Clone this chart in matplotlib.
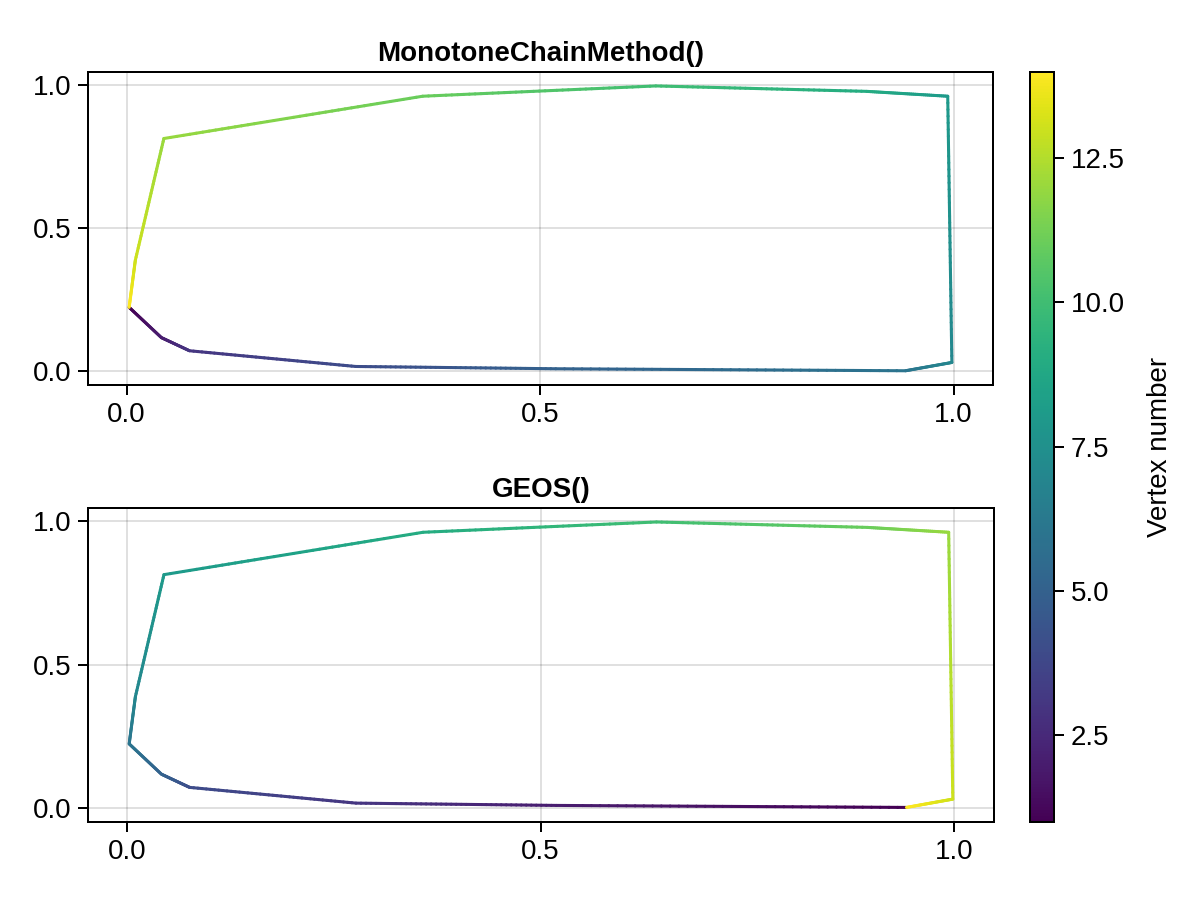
import numpy as np
import matplotlib
matplotlib.use("Agg")
import matplotlib.pyplot as plt
from matplotlib.collections import LineCollection
from matplotlib.colors import Normalize

# Convex hull vertices (closed ring), MonotoneChainMethod order
mc_x = [0.003, 0.042, 0.076, 0.277, 0.519, 0.942, 0.998, 0.993, 0.895, 0.640, 0.358, 0.045, 0.0105, 0.003]
mc_y = [0.223, 0.117, 0.071, 0.016, 0.008, 0.001, 0.030, 0.962, 0.979, 0.998, 0.962, 0.814, 0.388, 0.223]

# GEOS order (same hull, starting from a different vertex)
geos_x = [0.942, 0.519, 0.277, 0.076, 0.042, 0.003, 0.0105, 0.045, 0.358, 0.640, 0.895, 0.993, 0.998, 0.942]
geos_y = [0.001, 0.008, 0.016, 0.071, 0.117, 0.223, 0.388, 0.814, 0.962, 0.998, 0.979, 0.962, 0.030, 0.001]

titles = ["MonotoneChainMethod()", "GEOS()"]
x_ticks = [0.0, 0.5, 1.0]
y_ticks = [0.0, 0.5, 1.0]
cbar_ticks = [2.5, 5.0, 7.5, 10.0, 12.5]
cbar_label = "Vertex number"

plt.rcParams['font.family'] = ['Liberation Sans', 'DejaVu Sans']
plt.rcParams['font.size'] = 10

cmap = plt.get_cmap("viridis")
vnum = np.arange(1, len(mc_x) + 1)
norm = Normalize(vmin=vnum.min(), vmax=vnum.max())

fig = plt.figure(figsize=(6, 4.5), dpi=200)
ax_rects = [
    [88 / 1200, 1 - 385 / 900, (993 - 88) / 1200, (385 - 71.7) / 900],
    [88 / 1200, 1 - 821.7 / 900, (994 - 88) / 1200, (821.7 - 507.7) / 900],
]


def gradient_line(ax, xs, ys, cvals, nsub=40):
    segs = []
    cols = []
    for i in range(len(xs) - 1):
        t = np.linspace(0, 1, nsub + 1)
        px = xs[i] + (xs[i + 1] - xs[i]) * t
        py = ys[i] + (ys[i + 1] - ys[i]) * t
        pc = cvals[i] + (cvals[i + 1] - cvals[i]) * t
        for k in range(nsub):
            segs.append([(px[k], py[k]), (px[k + 1], py[k + 1])])
            cols.append(0.5 * (pc[k] + pc[k + 1]))
    lc = LineCollection(segs, cmap=cmap, norm=norm, linewidths=1.1,
                        capstyle='round', joinstyle='round', zorder=3)
    lc.set_array(np.array(cols))
    ax.add_collection(lc)
    return lc


for rect, xs, ys, title in zip(ax_rects, [mc_x, geos_x], [mc_y, geos_y], titles):
    ax = fig.add_axes(rect)
    gradient_line(ax, np.array(xs), np.array(ys), vnum.astype(float))
    xmin, xmax = min(xs), max(xs)
    ymin, ymax = min(ys), max(ys)
    ax.set_xlim(xmin - 0.05 * (xmax - xmin), xmax + 0.05 * (xmax - xmin))
    ax.set_ylim(ymin - 0.05 * (ymax - ymin), ymax + 0.05 * (ymax - ymin))
    ax.set_xticks(x_ticks)
    ax.set_xticklabels([f"{v:.1f}" for v in x_ticks])
    ax.set_yticks(y_ticks)
    ax.set_yticklabels([f"{v:.1f}" for v in y_ticks])
    ax.set_axisbelow(True)
    ax.grid(True, color='black', alpha=0.12, linewidth=0.72, zorder=0)
    ax.tick_params(direction='out', length=3.6, width=0.72, pad=2.5, labelsize=10)
    for s in ax.spines.values():
        s.set_linewidth(0.72)
    ax.set_title(title, fontweight='bold', fontsize=10, pad=4)

cax = fig.add_axes([1030 / 1200, 1 - 821.7 / 900, (1054 - 1030) / 1200, (821.7 - 71.7) / 900])
sm = plt.cm.ScalarMappable(norm=norm, cmap=cmap)
cb = fig.colorbar(sm, cax=cax)
cb.set_ticks(cbar_ticks)
cb.set_ticklabels([f"{v:.1f}" for v in cbar_ticks])
cb.outline.set_linewidth(0.72)
cax.tick_params(direction='out', length=3.6, width=0.72, pad=2.5, labelsize=10)
cb.set_label(cbar_label, fontsize=10, labelpad=8)

fig.savefig("out.png", dpi=200)
